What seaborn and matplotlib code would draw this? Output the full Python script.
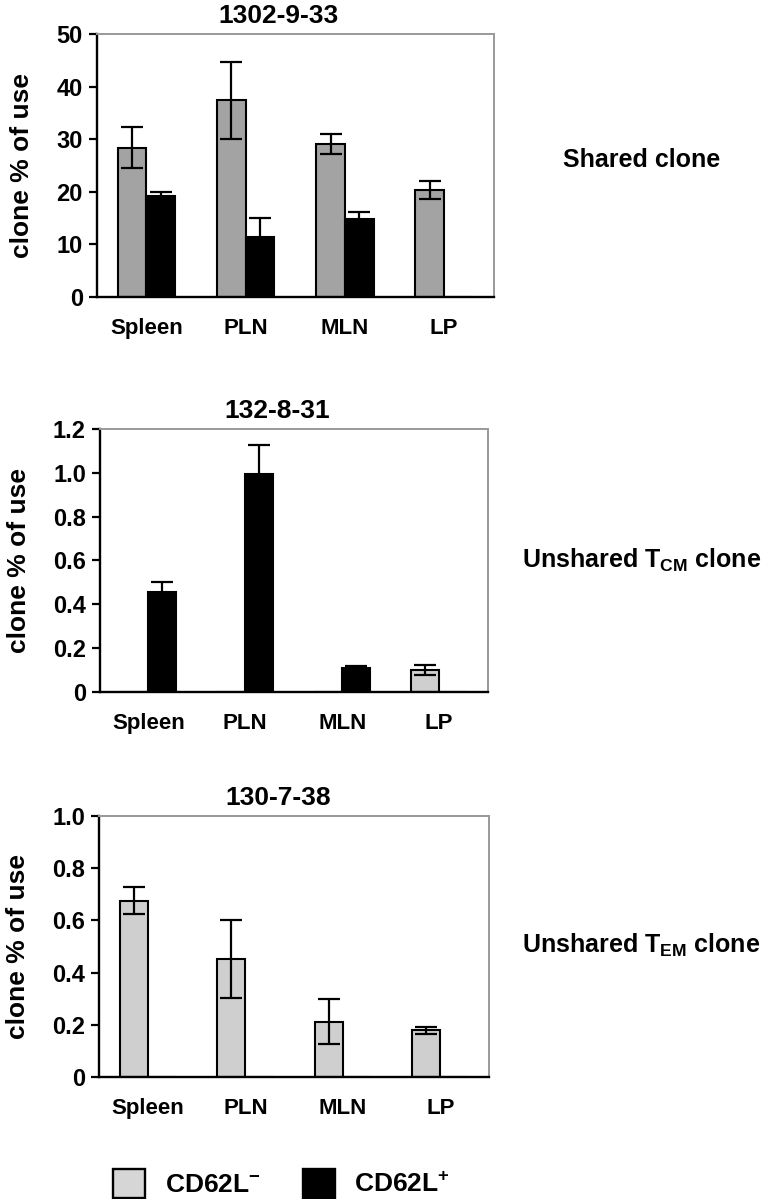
import numpy as np
import pandas as pd
import matplotlib
matplotlib.use('Agg')
import matplotlib.pyplot as plt
from matplotlib.patches import Patch
from matplotlib.ticker import FixedLocator, FuncFormatter
import seaborn as sns

sns.set_style('white')
plt.rcParams['font.family'] = ['Liberation Sans', 'DejaVu Sans']
plt.rcParams['font.weight'] = 'bold'
plt.rcParams['text.color'] = 'black'
plt.rcParams['axes.labelcolor'] = 'black'
plt.rcParams['xtick.color'] = 'black'
plt.rcParams['ytick.color'] = 'black'
plt.rcParams['mathtext.fontset'] = 'custom'
plt.rcParams['mathtext.rm'] = 'Liberation Sans:bold'
plt.rcParams['mathtext.it'] = 'Liberation Sans:bold'
plt.rcParams['mathtext.bf'] = 'Liberation Sans:bold'

tissues = ['Spleen', 'PLN', 'MLN', 'LP']
subsets = ['CD62L-', 'CD62L+']

# clone 1302-9-33 (shared)
shared_neg = [28.4, 37.4, 29.1, 20.4]
shared_neg_err = [3.9, 7.3, 1.9, 1.7]
shared_pos = [19.2, 11.4, 14.9, 0.0]
shared_pos_err = [0.7, 3.7, 1.2, 0.0]

# clone 132-8-31 (unshared TCM)
tcm_neg = [0.0, 0.0, 0.0, 0.10]
tcm_neg_err = [0.0, 0.0, 0.0, 0.021]
tcm_pos = [0.456, 0.996, 0.111, 0.0]
tcm_pos_err = [0.046, 0.131, 0.008, 0.0]

# clone 130-7-38 (unshared TEM)
tem_neg = [0.676, 0.453, 0.211, 0.179]
tem_neg_err = [0.053, 0.15, 0.086, 0.013]
tem_pos = [0.0, 0.0, 0.0, 0.0]
tem_pos_err = [0.0, 0.0, 0.0, 0.0]

titles = ['1302-9-33', '132-8-31', '130-7-38']
side_labels = ['Shared clone', r'Unshared T$_{\mathrm{CM}}$ clone', r'Unshared T$_{\mathrm{EM}}$ clone']
ylims = [50, 1.2, 1.0]
ysteps = [10, 0.2, 0.2]
neg_colors = ['#a3a3a3', '#cfcfcf', '#cfcfcf']

panels = [
    (shared_neg, shared_neg_err, shared_pos, shared_pos_err),
    (tcm_neg, tcm_neg_err, tcm_pos, tcm_pos_err),
    (tem_neg, tem_neg_err, tem_pos, tem_pos_err),
]

# axes boxes (left, bottom, width, height) in figure fraction
boxes = [
    (0.126, 0.7523, 0.517, 0.2193),
    (0.130, 0.4229, 0.505, 0.2193),
    (0.129, 0.1018, 0.508, 0.2176),
]
side_y = [1 - 160 / 1199, 1 - 560 / 1199, 1 - 945 / 1199]

fig = plt.figure(figsize=(7.68, 11.99), dpi=100)

for k, (neg, neg_err, pos, pos_err) in enumerate(panels):
    ax = fig.add_axes(boxes[k])
    df = pd.DataFrame({
        'tissue': tissues * 2,
        'subset': [subsets[0]] * 4 + [subsets[1]] * 4,
        'value': neg + pos,
    })
    errs = [neg_err, pos_err]
    pal = {subsets[0]: neg_colors[k], subsets[1]: 'black'}
    sns.barplot(data=df, x='tissue', y='value', hue='subset', order=tissues,
                hue_order=subsets, palette=pal, saturation=1, width=0.58,
                edgecolor='black', linewidth=1.5, errorbar=None, legend=False, ax=ax)
    bar_groups = list(ax.containers)
    for h, cont in enumerate(bar_groups):
        for i, bar in enumerate(cont):
            if errs[h][i] > 0:
                xc = bar.get_x() + bar.get_width() / 2
                ax.errorbar(xc, bar.get_height(), yerr=errs[h][i], fmt='none',
                            ecolor='black', elinewidth=1.6, capsize=8, capthick=1.6, zorder=1)

    ax.set_xlim(-0.5, 3.5)
    ax.set_ylim(0, ylims[k])
    yt = np.arange(0, ylims[k] + ysteps[k] / 2, ysteps[k])
    ax.set_yticks(yt)
    if k == 0:
        ax.yaxis.set_major_formatter(FuncFormatter(lambda v, p: '%d' % round(v)))
    else:
        ax.yaxis.set_major_formatter(FuncFormatter(lambda v, p: '0' if abs(v) < 1e-9 else '%.1f' % v))
    ax.xaxis.set_minor_locator(FixedLocator([-0.5, 0.5, 1.5, 2.5, 3.5]))
    ax.tick_params(axis='x', which='major', length=0, pad=15, labelsize=16)
    ax.tick_params(axis='x', which='minor', length=7, width=1.6, direction='out', color='black')
    ax.tick_params(axis='y', which='major', length=6, width=1.6, direction='out', color='black',
                   labelsize=17, pad=4, left=True)
    for lab in ax.get_xticklabels() + ax.get_yticklabels():
        lab.set_fontweight('bold')
    ax.set_xlabel('')
    ax.set_ylabel('clone % of use', fontsize=19, fontweight='bold', labelpad=16)
    ax.set_title(titles[k], fontsize=19, fontweight='bold', x=0.458, pad=8)
    for s in ['left', 'bottom']:
        ax.spines[s].set_color('black')
        ax.spines[s].set_linewidth(1.7)
    for s in ['top', 'right']:
        ax.spines[s].set_color('#999999')
        ax.spines[s].set_linewidth(1.4)
    ax.grid(False)

    fig.text(0.835, side_y[k], side_labels[k], fontsize=18, fontweight='bold',
             ha='center', va='center')

handles = [Patch(facecolor='#d6d6d6', edgecolor='black', linewidth=1.7),
           Patch(facecolor='black', edgecolor='black', linewidth=1.7)]
fig.legend(handles, [r'CD62L$^{-}$', r'CD62L$^{+}$'], loc='lower left',
           bbox_to_anchor=(113 / 768, 1 / 1199), ncol=2, frameon=False,
           handlelength=1.21, handleheight=1.33, handletextpad=0.75,
           columnspacing=1.6, borderpad=0, borderaxespad=0,
           prop={'weight': 'bold', 'size': 19})

fig.savefig('out.png', dpi=100)
